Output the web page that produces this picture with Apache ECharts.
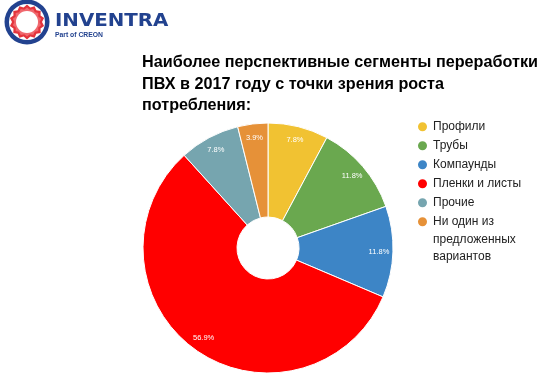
<!DOCTYPE html>
<html>
<head>
<meta charset="utf-8">
<script src="https://cdn.jsdelivr.net/npm/echarts@6/dist/echarts.min.js"></script>
<style>html,body{margin:0;padding:0;background:#fff;}#c{width:548px;height:387px;}</style>
</head>
<body>
<div id="c"></div>
<script>
// Data
const categories = ['Профили', 'Трубы', 'Компаунды', 'Пленки и листы', 'Прочие', 'Ни один из предложенных вариантов'];
const shares = [7.8, 11.8, 11.8, 56.9, 7.8, 3.9];
const colors = ['#F1C232', '#6AA84F', '#3D85C6', '#FF0000', '#76A5AF', '#E69138'];
const titleText = 'Наиболее перспективные сегменты переработки\nПВХ в 2017 году с точки зрения роста\nпотребления:';

const chart = echarts.init(document.getElementById('c'), null, {renderer: 'canvas'});
const pieData = categories.map((n, i) => ({name: n, value: shares[i], itemStyle: {color: colors[i]}}));

// logo gear polygon (decoration)
function starPts(cx, cy, rOut, rIn, n) {
  const pts = [];
  for (let i = 0; i < n * 2; i++) {
    const r = i % 2 === 0 ? rOut : rIn;
    const a = Math.PI * i / n - Math.PI / 2;
    pts.push([cx + r * Math.cos(a), cy + r * Math.sin(a)]);
  }
  return pts;
}

const option = {
  backgroundColor: '#fff',
  animation: false,
  title: {
    text: titleText,
    left: 142, top: 52,
    padding: 0,
    textStyle: {fontFamily: 'Liberation Sans, Arial', fontSize: 16.2, fontWeight: 'bold', color: '#000', lineHeight: 21.5}
  },
  legend: [{
    orient: 'vertical',
    left: 416, top: 117.2,
    padding: 0,
    itemGap: 0,
    itemWidth: 11, itemHeight: 11,
    icon: 'circle',
    data: categories.slice(0, 5),
    textStyle: {fontFamily: 'Liberation Sans, Arial', fontSize: 12, color: '#222', lineHeight: 19}
  }, {
    orient: 'vertical',
    left: 416, top: 178,
    padding: 0,
    itemWidth: 11, itemHeight: 11,
    icon: 'circle',
    data: categories.slice(5),
    formatter: function (name) { return '\n\n' + name.replace(' из ', ' из\n').replace('ных ', 'ных\n'); },
    textStyle: {fontFamily: 'Liberation Sans, Arial', fontSize: 12, color: '#222', lineHeight: 17.5}
  }],
  graphic: [
    {type: 'circle', shape: {cx: 27, cy: 22, r: 22.5}, style: {fill: '#22428F'}},
    {type: 'circle', shape: {cx: 27, cy: 22, r: 18}, style: {fill: '#fff'}},
    {type: 'polygon', shape: {points: starPts(27, 22, 17.5, 15, 14)}, style: {fill: '#E4343C'}},
    {type: 'polygon', shape: {points: starPts(27, 22, 14.5, 12.5, 14)}, style: {fill: '#F0686E'}},
    {type: 'circle', shape: {cx: 27, cy: 22, r: 11}, style: {fill: '#fff'}},
    {type: 'text', x: 55, y: 12, scaleX: 1.1, style: {text: 'INVENTRA', fontFamily: 'DejaVu Sans', fontWeight: 'bold', fontSize: 18, fill: '#22428F'}},
    {type: 'text', x: 55, y: 31.5, style: {text: 'Part of CREON', fontFamily: 'Liberation Sans, Arial', fontWeight: 'bold', fontSize: 6.8, fill: '#22428F'}}
  ],
  series: [{
    type: 'pie',
    center: [268, 248],
    radius: [31, 125],
    startAngle: 90,
    clockwise: true,
    avoidLabelOverlap: false,
    label: {show: false},
    labelLine: {show: false},
    itemStyle: {borderColor: '#fff', borderWidth: 1},
    emphasis: {disabled: true},
    data: pieData
  }, {
    type: 'pie',
    center: [268, 248],
    radius: [91, 125],
    startAngle: 90,
    clockwise: true,
    silent: true,
    avoidLabelOverlap: false,
    itemStyle: {color: 'rgba(0,0,0,0)', borderWidth: 0},
    emphasis: {disabled: true},
    label: {show: true, position: 'inside', formatter: '{c}%', color: '#fff',
      fontFamily: 'Liberation Sans, Arial', fontSize: 7.5, textBorderWidth: 0},
    labelLine: {show: false},
    data: categories.map((n, i) => ({name: n, value: shares[i]}))
  }]
};
chart.setOption(option);
</script>
</body>
</html>
